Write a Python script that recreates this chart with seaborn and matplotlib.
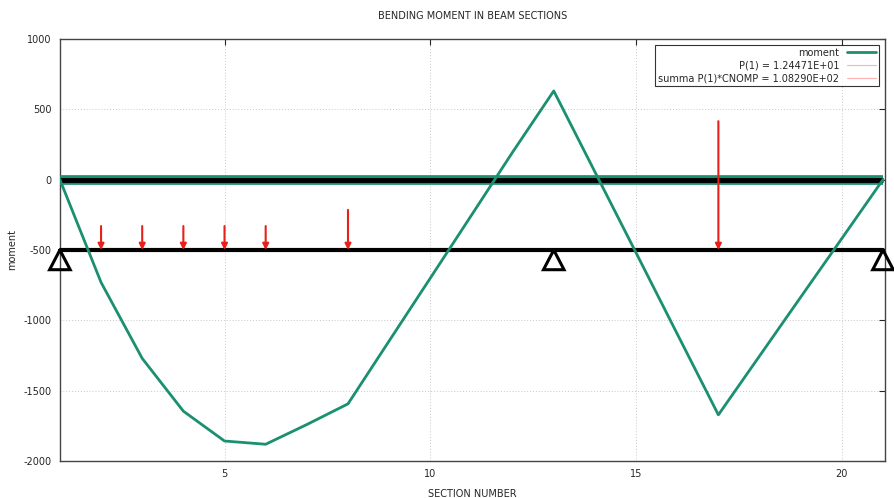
import numpy as np
import pandas as pd
import seaborn as sb
import matplotlib
matplotlib.use("Agg")
import matplotlib.pyplot as plt

# bending moment per section
section = list(range(1, 22))
moment = [0, -730, -1270, -1645, -1857, -1880, -1740, -1593, -1146, -700,
          -253, 195, 630, 55, -520, -1096, -1671, -1253, -835, -418, 0]

# beam drawn at level -500 with supports and loads
beam_level = -500
supports = [1, 13, 21]
load_x = [2, 3, 4, 5, 6, 8, 17]
load_top = [-330, -330, -330, -330, -330, -215, 415]

legend_p1 = "P(1) = 1.24471E+01"
legend_sum = "summa P(1)*CNOMP = 1.08290E+02"

green = "#1a9070"
red = "#e8201a"

df = pd.DataFrame({"section": section, "moment": moment})

sb.set_style("white")
plt.rcParams["font.family"] = ["DejaVu Sans"]
plt.rcParams["font.size"] = 7
plt.rcParams["axes.unicode_minus"] = False

fig = plt.figure(figsize=(8.94, 4.98), dpi=100)
ax = fig.add_axes([0.067, 0.074, 0.923, 0.848])

# zero line (thick green with black core)
ax.plot([section[0], section[-1]], [0, 0], color=green, lw=7, solid_capstyle="butt", zorder=3)
ax.plot([section[0], section[-1]], [0, 0], color="black", lw=3.5, solid_capstyle="butt", zorder=4)

# moment diagram
sb.lineplot(data=df, x="section", y="moment", color=green, lw=2, ax=ax, zorder=5, label="moment")
ax.plot([], [], color="#ffb0b0", lw=0.8, label=legend_p1)
ax.plot([], [], color="#ffb0b0", lw=0.8, label=legend_sum)

# beam
ax.plot([section[0], section[-1]], [beam_level, beam_level], color="black", lw=3, zorder=4)
for s in supports:
    tx = [s, s - 0.25, s + 0.25, s]
    ty = [beam_level, beam_level - 140, beam_level - 140, beam_level]
    ax.plot(tx, ty, color="black", lw=2.2, zorder=6, solid_joinstyle="miter", clip_on=False)

# loads
for lx, lt in zip(load_x, load_top):
    ax.annotate("", xy=(lx, beam_level), xytext=(lx, lt),
                arrowprops=dict(arrowstyle="-|>", color=red, lw=1.5, mutation_scale=9,
                                shrinkA=0, shrinkB=0), zorder=7)

ax.set_xlim(1, 21.05)
ax.set_ylim(-2000, 1000)
ax.set_xticks([5, 10, 15, 20])
ax.set_yticks([1000, 500, 0, -500, -1000, -1500, -2000])
ax.grid(True, color="#c8c8c8", ls=(0, (1, 2)), lw=0.7)
ax.tick_params(direction="in", length=4, top=True, right=True, labelsize=7, pad=6)
for sp in ax.spines.values():
    sp.set_color("#444444")
    sp.set_linewidth(1)

ax.set_title("BENDING MOMENT IN BEAM SECTIONS", fontsize=7, pad=14)
ax.set_xlabel("SECTION NUMBER", fontsize=7, labelpad=7)
ax.set_ylabel("moment", fontsize=7)
ax.yaxis.set_label_coords(-0.052, 0.5)

leg = ax.legend(loc="upper right", markerfirst=False, fontsize=7, frameon=True, fancybox=False,
                borderpad=0.3, handlelength=3, labelspacing=0.3, borderaxespad=0.6)
leg.get_frame().set_edgecolor("black")
leg.get_frame().set_linewidth(0.8)
for t in leg.get_texts():
    t.set_ha("right")
leg._legend_box.align = "right"

fig.savefig("out.png", dpi=100)
